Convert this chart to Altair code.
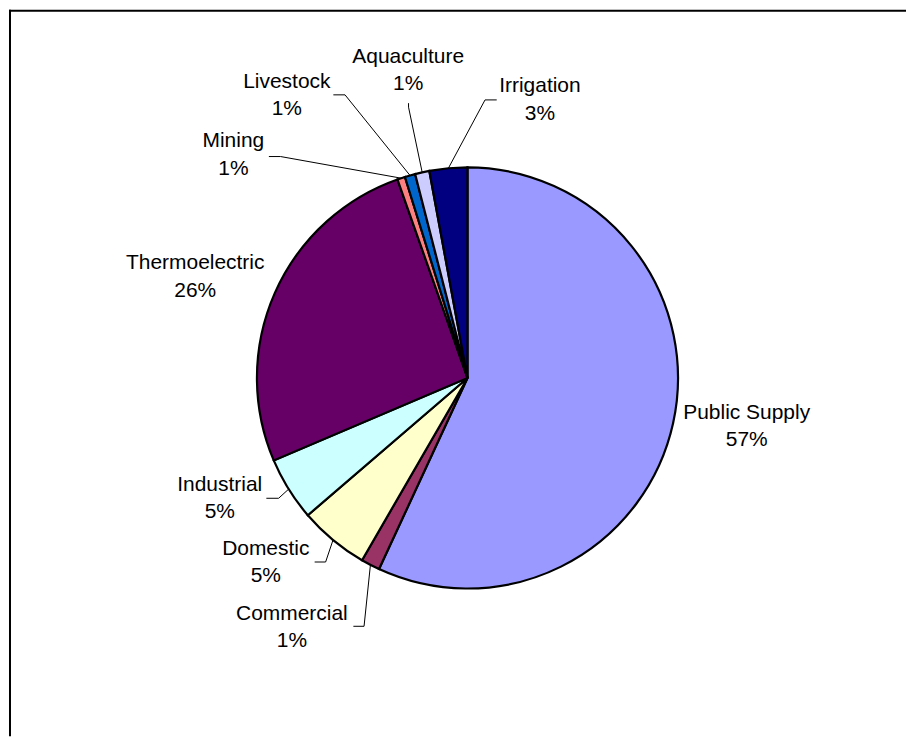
import math
import altair as alt
import pandas as pd

# ---- data -------------------------------------------------------------
categories = ["Public Supply", "Commercial", "Domestic", "Industrial",
              "Thermoelectric", "Mining", "Livestock", "Aquaculture", "Irrigation"]
shares = [56.9, 1.45, 5.35, 4.9, 26.0, 0.6, 0.8, 1.1, 2.9]
colors = ["#9999FF", "#993366", "#FFFFCC", "#CCFFFF", "#660066",
          "#FF8080", "#0066CC", "#CCCCFF", "#000080"]

# ---- label layout (distance of label centre from pie centre, angular nudge) ----
label_dist = [284, 306, 274, 276, 291, 324, 336, 314, 288]
label_turn = [-2.6, 7.65, 7.86, 5.96, -3.41, -28.04, -16.76, 1.52, 19.82]
# leader lines: start offset from label centre (px, screen y down) and short stub
leader_start = [None, (61.6, -1.5), (49, -0.5), (46.7, 0), None,
                (35.6, 1.5), (46.6, -0.7), (0.3, 32.9), (-43.3, 0)]
leader_stub = [None, (10.7, 0), (11, 0), (12.3, 0), None,
               (11.7, 0), (11.7, 0), (0, 4), (-11.7, 0)]

W, H = 899, 728
CX, CY = 459.5, 369.0   # pie centre inside plot area
R = 211
LINE_H = 27.5

total = sum(shares)
label_rows, line_rows = [], []
cum = 0.0
for i, (cat, v) in enumerate(zip(categories, shares)):
    mid = (cum + v / 2) / total * 360.0
    cum += v
    m = math.radians(mid)
    ax, ay = R * math.sin(m), R * math.cos(m)
    a2 = math.radians(mid + label_turn[i])
    lx, ly = label_dist[i] * math.sin(a2), label_dist[i] * math.cos(a2)
    label_rows.append({"category": cat, "x": lx, "y": ly,
                       "label": f"{cat}\n{round(v)}%"})
    if leader_start[i] is not None:
        sx, sy = leader_start[i]
        tx, ty = leader_stub[i]
        p0 = (lx + sx, ly - sy)
        p1 = (p0[0] + tx, p0[1] - ty)
        for k, (px, py) in enumerate([p0, p1, (ax, ay)]):
            line_rows.append({"category": cat, "step": k, "x": px, "y": py})

pie_df = pd.DataFrame({"category": categories, "share": shares,
                       "idx": list(range(len(categories)))})
label_df = pd.DataFrame(label_rows)
line_df = pd.DataFrame(line_rows)

xscale = alt.Scale(domain=[-CX, W - CX], nice=False, zero=False)
yscale = alt.Scale(domain=[-(H - CY), CY], nice=False, zero=False)

arcs = alt.Chart(pie_df).mark_arc(outerRadius=R, stroke="black", strokeWidth=2.2).encode(
    theta=alt.Theta("share:Q", stack=True),
    order=alt.Order("idx:Q"),
    color=alt.Color("category:N", scale=alt.Scale(domain=categories, range=colors),
                    legend=None, sort=None),
    x=alt.XDatum(0, scale=xscale, axis=None),
    y=alt.YDatum(0, scale=yscale, axis=None),
)

leaders = alt.Chart(line_df).mark_line(color="black", strokeWidth=1).encode(
    x=alt.X("x:Q", scale=xscale, axis=None),
    y=alt.Y("y:Q", scale=yscale, axis=None),
    detail="category:N",
    order="step:Q",
)

texts = alt.Chart(label_df).mark_text(
    font="Liberation Sans", fontSize=21, lineBreak="\n", lineHeight=LINE_H,
    align="center", baseline="middle", color="black", dy=-LINE_H / 2
).encode(
    x=alt.X("x:Q", scale=xscale, axis=None),
    y=alt.Y("y:Q", scale=yscale, axis=None),
    text="label:N",
)

frame_df = pd.DataFrame({"k": [0]})
left_edge = alt.Chart(frame_df).mark_rule(color="black", strokeWidth=2).encode(
    x=alt.value(1), y=alt.value(0), y2=alt.value(H))
top_edge = alt.Chart(frame_df).mark_rule(color="black", strokeWidth=2).encode(
    y=alt.value(1), x=alt.value(0), x2=alt.value(W))

chart = alt.layer(arcs, leaders, texts, left_edge, top_edge).properties(
    width=W, height=H, padding=0, background="white"
).configure_view(stroke=None)

chart.save("out.html", embed_options={"renderer": "svg", "actions": False})
